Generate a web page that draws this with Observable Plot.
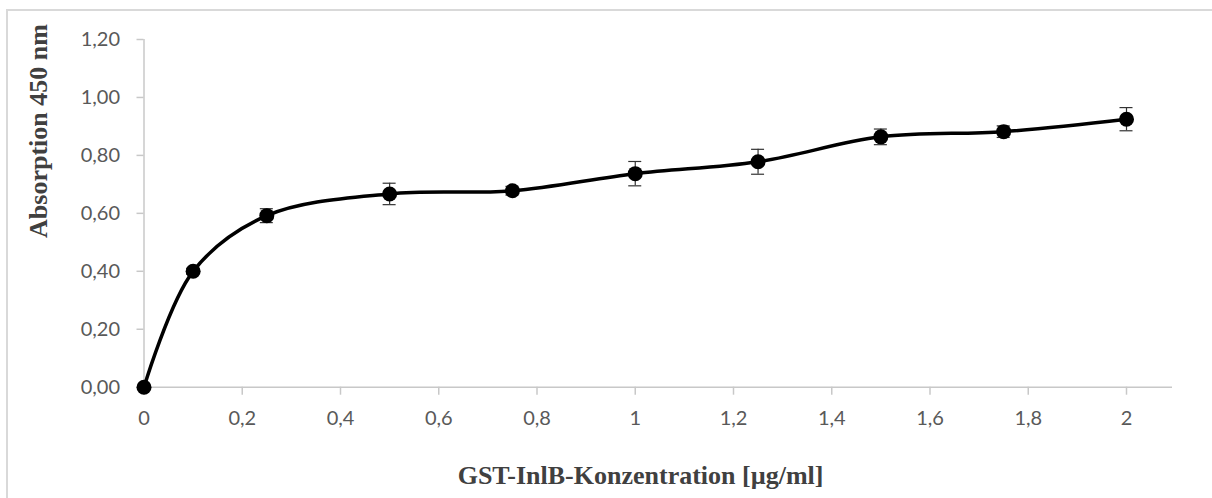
<!DOCTYPE html>
<html>
<head>
<meta charset="utf-8">
<script src="https://cdn.jsdelivr.net/npm/d3@7"></script>
<script src="https://cdn.jsdelivr.net/npm/@observablehq/plot@0.6"></script>
<style>
  html, body { margin: 0; padding: 0; background: #fff; }
  #wrap { position: relative; width: 1212px; height: 498px; overflow: hidden; }
  #frame { position: absolute; left: 6px; top: 9px; width: 1400px; height: 700px;
           border: 2px solid #d9d9d9; box-sizing: border-box; }
  #chart { position: absolute; left: 0; top: 0; }
</style>
</head>
<body>
<div id="wrap"><div id="frame"></div><div id="chart"></div></div>
<script>
// GST-InlB concentration series (µg/ml) and mean absorption at 450 nm
const concentration = [0, 0.1, 0.25, 0.5, 0.75, 1, 1.25, 1.5, 1.75, 2];
const absorption    = [0, 0.400, 0.592, 0.667, 0.678, 0.737, 0.778, 0.864, 0.882, 0.925];
const deviation     = [0, 0.010, 0.024, 0.037, 0.015, 0.042, 0.043, 0.027, 0.020, 0.040];

const xTicks = [0, 0.2, 0.4, 0.6, 0.8, 1, 1.2, 1.4, 1.6, 1.8, 2];
const yTicks = [0, 0.2, 0.4, 0.6, 0.8, 1.0, 1.2];

const xTitle = "GST-InlB-Konzentration [µg/ml]";
const yTitle = "Absorption 450 nm";

const rows = concentration.map((c, i) => ({
  c, a: absorption[i], lo: absorption[i] - deviation[i], hi: absorption[i] + deviation[i]
}));

const comma = s => String(s).replace(".", ",");
const axisGray = "#c8c8c8";
const labelGray = "#595959";
const titleStyle = { fontFamily: "Liberation Serif", fontWeight: "bold", fontSize: 26, fill: "#404040" };

const chart = Plot.plot({
  width: 1212,
  height: 498,
  marginLeft: 143.5,
  marginRight: 40,
  marginTop: 39,
  marginBottom: 111.3,
  style: { fontFamily: "Lato", fontSize: "20px", background: "transparent", overflow: "visible" },
  x: { domain: [0, 2], range: [143.5, 1126] },
  y: { domain: [0, 1.2] },
  marks: [
    Plot.ruleY([0], { stroke: axisGray, strokeWidth: 1.5 }),
    Plot.ruleX([0], { y1: 0, y2: 1.2, stroke: axisGray, strokeWidth: 1.5 }),
    Plot.axisX({ ticks: xTicks, tickSize: 8, tickPadding: 16, tickFormat: comma,
                 stroke: axisGray, strokeWidth: 1.5, fill: labelGray, label: null }),
    Plot.axisY({ ticks: yTicks, tickSize: 7, tickPadding: 17, tickFormat: d => comma(d.toFixed(2)),
                 stroke: axisGray, strokeWidth: 1.5, fill: labelGray, label: null }),
    // error bars with caps
    Plot.ruleX(rows, { x: "c", y1: "lo", y2: "hi", stroke: "#333", strokeWidth: 1.2 }),
    Plot.ruleY(rows, { y: "hi", x1: "c", x2: "c", insetLeft: -6.5, insetRight: -6.5, stroke: "#333", strokeWidth: 1.2 }),
    Plot.ruleY(rows, { y: "lo", x1: "c", x2: "c", insetLeft: -6.5, insetRight: -6.5, stroke: "#333", strokeWidth: 1.2 }),
    // smoothed line and markers
    Plot.line(rows, { x: "c", y: "a", curve: "catmull-rom", stroke: "#000", strokeWidth: 3.5 }),
    Plot.dot(rows, { x: "c", y: "a", r: 7.5, fill: "#000", stroke: "none" }),
    // axis titles
    Plot.text([xTitle], { frameAnchor: "bottom", dx: -17.7, dy: 88.6, lineAnchor: "middle", ...titleStyle }),
    Plot.text([yTitle], { frameAnchor: "left", rotate: -90, dx: -105.5, dy: 24.6, lineAnchor: "middle", ...titleStyle })
  ]
});

document.getElementById("chart").appendChild(chart);
</script>
</body>
</html>
